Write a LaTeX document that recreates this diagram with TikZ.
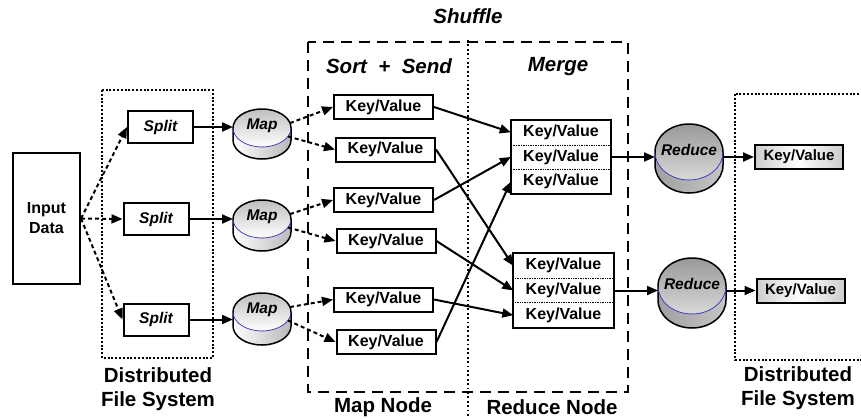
\documentclass[tikz,border=0pt]{standalone}
\usepackage{fontspec}
\setmainfont{Liberation Sans}
\usetikzlibrary{shapes,arrows.meta}
\tikzset{
  blk/.style={draw, line width=2pt, fill=white, inner sep=0pt, font=\fontsize{16}{20}\selectfont\bfseries},
  kv/.style={blk, minimum width=99pt, minimum height=24pt},
  spl/.style={blk, minimum width=65pt, minimum height=32pt, font=\fontsize{15.5}{18}\selectfont\bfseries\itshape},
  outkv/.style={blk, minimum width=88pt, minimum height=24pt, left color=gray!40, right color=gray!40, middle color=white, font=\fontsize{15}{18}\selectfont\bfseries},
  row/.style={inner sep=0pt, minimum width=100pt, minimum height=24.7pt, fill=white, font=\fontsize{16}{18}\selectfont\bfseries},
  lbl/.style={align=center, font=\fontsize{20.5}{24}\selectfont\bfseries},
  ttl/.style={font=\fontsize{20.5}{24}\selectfont\bfseries\itshape},
  disktext/.style={inner sep=0pt, font=\fontsize{15.5}{18}\selectfont\bfseries\itshape},
  maptop/.style={top color=gray!50, bottom color=white},
  mapside/.style={left color=white, right color=gray!55},
  redtop/.style={top color=gray!80, bottom color=gray!30},
  redside/.style={left color=gray!75, right color=gray!45},
  arr/.style={-{Triangle[length=11pt,width=9pt]}, line width=2pt},
  darr/.style={arr, dash pattern=on 4pt off 3pt},
  dfs/.style={line width=1.8pt, dash pattern=on 2pt off 1.8pt},
  shuffle/.style={line width=2.2pt, dash pattern=on 11pt off 7pt},
  sep/.style={line width=1.8pt, dash pattern=on 1.8pt off 2.6pt}
}
\newcommand{\kvbox}[3]{\node[kv] (#1) at ( #2 , #3 ) {Key/Value};}
\newcommand{\splitbox}[3]{\node[spl] (#1) at ( #2 , #3 ) {Split};}
\newcommand{\mergebox}[3]{
  \node[row] (#1a) at ( #2 , #3 + 24.7 ) {Key/Value};
  \node[row] (#1b) at ( #2 , #3 ) {Key/Value};
  \node[row] (#1c) at ( #2 , #3 - 24.7 ) {Key/Value};
  \draw[line width=2pt] (#1a.north west) rectangle (#1c.south east);
  \draw[densely dotted, line width=0.7pt] (#1a.south west) -- (#1a.south east);
  \draw[densely dotted, line width=0.7pt] (#1c.north west) -- (#1c.north east);}
% name, x, y, x radius, y radius, depth, kind, text
\newcommand{\disk}[8]{
  \node[ellipse, inner sep=0pt, outer sep=0pt, minimum width={2*#4pt}, minimum height={2*#5pt}, #7top] (#1) at ( #2 , #3 ) {};
  \fill[#7side] (#1.west) -- ++(0,-#6) arc[start angle=180, end angle=360, x radius=#4pt, y radius=#5pt] -- (#1.east) arc[start angle=0, end angle=-180, x radius=#4pt, y radius=#5pt] -- cycle;
  \draw[line width=1.5pt] (#1.east) arc[start angle=0, end angle=180, x radius=#4pt, y radius=#5pt] -- ++(0,-#6) arc[start angle=180, end angle=360, x radius=#4pt, y radius=#5pt] -- cycle;
  \draw[blue!55!gray, line width=0.7pt] (#1.west) arc[start angle=180, end angle=360, x radius=#4pt, y radius=#5pt];
  \node[disktext] (#1t) at ( #2 , #3 + 2 ) {#8};}

\begin{document}
\begin{tikzpicture}[x=1pt,y=1pt]
        \clip (0,0) rectangle (861,-418);

        % frames
        \draw[dfs] (102,-90) rectangle (213,-358);
        \draw[dfs] (735,-94) rectangle (875,-360);
        \draw[shuffle] (308,-42) rectangle (628,-392);
        \draw[sep] (468,-40) -- (468,-418);

        \node[ttl] (shuf) at (468,-16) {Shuffle};
        \node[ttl] (sortsend) at (389,-66) {Sort~~+~~Send};
        \node[ttl] (merge) at (558,-67) {Merge};
        \node[lbl] (mapnode) at (383,-407) {Map Node};
        \node[lbl] (rednode) at (552,-407) {Reduce Node};
        \node[lbl] (dfsL) at (158,-389) {Distributed\\File System};
        \node[lbl] (dfsR) at (798,-388) {Distributed\\File System};

        % input and splits
        \node[blk, minimum width=67pt, minimum height=131pt, align=center] (input) at (46.5,-218.5) {Input\\Data};
        \splitbox{sp1}{160.5}{-127}
        \splitbox{sp2}{156}{-219}
        \splitbox{sp3}{156}{-319.5}

        % map
        \disk{map1}{262}{-128}{29}{19}{12}{map}{Map}
        \disk{map2}{262}{-219}{29}{19}{13}{map}{Map}
        \disk{map3}{262}{-312}{29}{19}{14}{map}{Map}

        % sort + send
        \kvbox{kv1}{383.5}{-107}
        \kvbox{kv2}{385.5}{-149.5}
        \kvbox{kv3}{383.5}{-200}
        \kvbox{kv4}{386}{-241}
        \kvbox{kv5}{383.5}{-299.5}
        \kvbox{kv6}{386}{-342}

        % merge
        \mergebox{mA}{561}{-157}
        \mergebox{mB}{563.5}{-290.5}

        % reduce
        \disk{red1}{689}{-152}{34}{28}{13}{red}{Reduce}
        \disk{red2}{692}{-286}{34}{28}{14}{red}{Reduce}
        \node[outkv] (out1) at (799,-157) {Key/Value};
        \node[outkv] (out2) at (800.5,-290.5) {Key/Value};

        % arrows
        \draw[darr] (input.east) -- (sp1.west);
        \draw[darr] (input.east) -- (sp2.west);
        \draw[darr] (input.east) -- (sp3.west);
        \draw[arr] (sp1.east) -- (sp1.east -| map1.west);
        \draw[arr] (sp2.east) -- (sp2.east -| map2.west);
        \draw[arr] (sp3.east) -- (sp3.east -| map3.west);
        \draw[darr] (map1.10) -- (kv1.west);
        \draw[darr] (map1.-18) -- (kv2.west);
        \draw[darr] (map2.10) -- (kv3.west);
        \draw[darr] (map2.-18) -- (kv4.west);
        \draw[darr] (map3.10) -- (kv5.west);
        \draw[darr] (map3.-18) -- (kv6.west);
        \draw[arr] (kv1.east) -- (mAa.west);
        \draw[arr] (kv2.east) -- (mBa.west);
        \draw[arr] (kv3.east) -- (mAb.west);
        \draw[arr] (kv4.east) -- (mBb.west);
        \draw[arr] (kv5.east) -- (mBc.west);
        \draw[arr] (kv6.east) -- (mAc.west);
        \draw[arr] (mAb.east) -- (mAb.east -| red1.west);
        \draw[arr] (mBb.east) -- (mBb.east -| red2.west);
        \draw[arr] (out1.west -| red1.east) -- (out1.west);
        \draw[arr] (out2.west -| red2.east) -- (out2.west);

    \end{tikzpicture}
\end{document}
